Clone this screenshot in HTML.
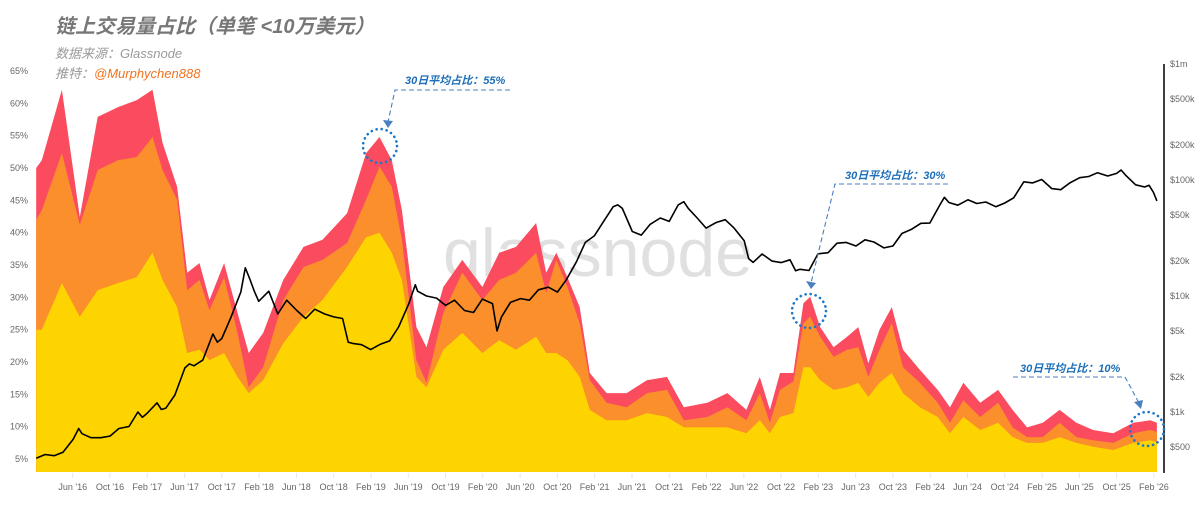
<!DOCTYPE html>
<html><head><meta charset="utf-8">
<style>
html,body{margin:0;padding:0;background:#fff;}
svg{display:block;font-family:"Liberation Sans","Noto Sans CJK SC",sans-serif;}
</style></head>
<body>
<svg id="chart" width="1200" height="512" viewBox="0 0 1200 512" xmlns="http://www.w3.org/2000/svg">
<text x="55" y="33" font-size="20" font-weight="bold" font-style="italic" fill="#777">链上交易量占比（单笔 &lt;10万美元）</text>
<text x="55" y="58" font-size="13" font-style="italic" fill="#9a9a9a">数据来源：Glassnode</text>
<text x="55" y="78" font-size="13" font-style="italic" fill="#9a9a9a">推特：<tspan fill="#f0731e">@Murphychen888</tspan></text>
<text x="598" y="276" font-size="68" fill="#e0e0e0" text-anchor="middle">glassnode</text>
<g id="areas"></g>
<g id="price"></g>
<g id="yaxis"></g>
<g id="raxis"></g>
<g id="xaxis"></g>
<g id="annot"></g>
</svg>
<script>
const dates = [2016.09,2016.14,2016.32,2016.48,2016.64,2016.82,2016.99,2017.13,2017.22,2017.35,2017.44,2017.55,2017.64,2017.77,2017.89,2017.99,2018.12,2018.30,2018.48,2018.65,2018.87,2019.04,2019.16,2019.27,2019.36,2019.49,2019.58,2019.73,2019.90,2020.08,2020.23,2020.38,2020.56,2020.65,2020.74,2020.84,2020.95,2021.04,2021.19,2021.37,2021.55,2021.73,2021.88,2022.09,2022.27,2022.44,2022.56,2022.65,2022.74,2022.86,2022.95,2023.01,2023.10,2023.22,2023.34,2023.44,2023.53,2023.63,2023.74,2023.84,2023.99,2024.15,2024.26,2024.38,2024.53,2024.69,2024.82,2024.95,2025.09,2025.24,2025.39,2025.54,2025.72,2025.90,2026.05,2026.11];
const redTop = [50,51.2,62.1,42.4,57.9,59.4,60.5,62.1,53.9,47.1,33.8,35.3,29.6,35.3,27.6,21.4,24.5,32.7,37.8,38.9,43.0,52.3,54.8,51.2,43.5,25.4,22.3,31.6,35.8,31.6,36.9,37.8,41.5,33.8,36.9,33.1,28.5,18.3,15.2,15.2,17.2,17.7,13.0,13.7,15.2,12.6,17.7,12.6,18.3,18.3,29.1,30.1,25.4,22.3,23.9,25.4,19.8,25.0,28.5,21.9,18.8,15.7,13.0,16.8,13.7,15.7,12.6,9.9,10.6,12.6,10.6,9.5,9.0,10.6,11.0,10.6];
const orangeTop = [42,43.5,52.3,41.2,49.7,51.2,51.7,54.8,49.7,45.1,31.1,32.7,28.0,33.1,24.5,16.1,19.2,29.6,34.7,35.8,38.4,45.1,50.2,47.1,38.9,20.3,16.8,27.6,33.8,29.6,32.7,33.8,36.9,30.7,35.8,31.6,26.0,17.2,13.7,13.0,15.2,15.7,11.0,11.5,13.0,11.0,15.2,10.6,15.7,17.0,26.0,27.0,23.9,20.8,21.9,22.3,17.7,21.9,26.0,19.2,16.8,13.7,10.6,14.1,11.5,13.7,9.9,8.4,8.4,10.6,8.4,7.9,7.5,9.0,9.5,9.2];
const yellowTop = [25,25.0,32.2,27.0,31.1,32.2,33.1,36.9,32.7,28.5,21.4,21.9,20.3,21.4,17.7,15.2,17.2,22.9,27.0,29.6,34.7,39.3,40.0,36.9,32.7,17.7,16.1,21.9,24.5,21.4,23.4,21.9,23.9,21.4,21.4,20.3,17.7,12.6,11.0,11.0,12.1,11.5,9.9,9.9,9.9,9.0,11.0,9.0,11.5,12.1,19.2,19.2,17.2,15.7,16.1,16.8,14.6,16.8,18.3,15.2,13.0,11.5,9.0,11.5,9.5,10.6,8.4,7.5,7.5,8.4,7.5,6.9,6.4,7.5,7.9,7.6];
const priceDates = [2016.09,2016.17,2016.25,2016.33,2016.42,2016.47,2016.50,2016.58,2016.67,2016.75,2016.83,2016.92,2017.0,2017.04,2017.08,2017.17,2017.21,2017.25,2017.33,2017.42,2017.46,2017.5,2017.58,2017.67,2017.71,2017.75,2017.83,2017.92,2017.96,2018.0,2018.04,2018.08,2018.17,2018.25,2018.33,2018.42,2018.5,2018.58,2018.67,2018.75,2018.83,2018.88,2018.92,2019.0,2019.08,2019.17,2019.25,2019.33,2019.42,2019.48,2019.5,2019.58,2019.67,2019.75,2019.83,2019.92,2020.0,2020.08,2020.17,2020.21,2020.25,2020.33,2020.42,2020.5,2020.58,2020.67,2020.75,2020.83,2020.92,2021.0,2021.08,2021.17,2021.25,2021.29,2021.33,2021.42,2021.5,2021.58,2021.67,2021.75,2021.83,2021.88,2021.92,2022.0,2022.08,2022.17,2022.25,2022.33,2022.42,2022.46,2022.5,2022.58,2022.67,2022.75,2022.83,2022.88,2022.92,2023.0,2023.08,2023.17,2023.25,2023.33,2023.42,2023.5,2023.58,2023.67,2023.75,2023.83,2023.92,2024.0,2024.08,2024.17,2024.21,2024.25,2024.33,2024.42,2024.5,2024.58,2024.67,2024.75,2024.83,2024.92,2025.0,2025.08,2025.17,2025.25,2025.33,2025.42,2025.5,2025.58,2025.67,2025.75,2025.79,2025.83,2025.92,2026.0,2026.04,2026.08,2026.11];
const prices = [400,430,420,450,580,720,650,600,600,620,720,750,1000,900,970,1200,1050,1080,1400,2400,2600,2500,2800,4700,4000,4300,6500,10800,17500,14000,11000,9000,11000,7000,9200,7500,6400,7700,7000,6600,6400,4000,3900,3800,3450,3850,4100,5400,8500,12500,11000,10000,9600,8300,9200,7500,7200,9400,8600,5000,6600,8800,9500,9200,11300,11900,10800,13800,19700,29000,33000,45000,59000,61000,57000,36000,33500,41500,47000,44000,61000,65000,57000,47000,38500,43000,45500,38500,30000,21000,19500,23000,20000,19400,20500,16500,17000,16600,23100,23600,28500,29000,27000,30500,29200,26000,27000,34600,37700,42300,42500,61000,71000,64000,60600,67500,62700,64600,58900,63300,70200,96500,94400,101000,84300,82500,94200,104600,107100,115700,108200,114000,122000,110000,91000,87000,90000,78000,66000];
const leftTicks = [5,10,15,20,25,30,35,40,45,50,55,60,65];
const rightTicks = [500,1000,2000,5000,10000,20000,50000,100000,200000,500000,1000000];
const rightLabels = ["$500","$1k","$2k","$5k","$10k","$20k","$50k","$100k","$200k","$500k","$1m"];
const xTickDates = [2016.417,2016.75,2017.083,2017.417,2017.75,2018.083,2018.417,2018.75,2019.083,2019.417,2019.75,2020.083,2020.417,2020.75,2021.083,2021.417,2021.75,2022.083,2022.417,2022.75,2023.083,2023.417,2023.75,2024.083,2024.417,2024.75,2025.083,2025.417,2025.75,2026.083];
const xTickLabels = ["Jun '16","Oct '16","Feb '17","Jun '17","Oct '17","Feb '18","Jun '18","Oct '18","Feb '19","Jun '19","Oct '19","Feb '20","Jun '20","Oct '20","Feb '21","Jun '21","Oct '21","Feb '22","Jun '22","Oct '22","Feb '23","Jun '23","Oct '23","Feb '24","Jun '24","Oct '24","Feb '25","Jun '25","Oct '25","Feb '26"];

const NS = "http://www.w3.org/2000/svg";
const X = t => 72.7 + (t - 2016.4167) * 111.85;
const Y = p => 472 - (p - 3) * (401 / 62);
const P = v => 412 - 116 * Math.log10(v / 1000);
function mk(tag, attrs, parent){ const e=document.createElementNS(NS,tag); for(const k in attrs) e.setAttribute(k,attrs[k]); parent.appendChild(e); return e; }

const areas = document.getElementById('areas');
function areaPath(vals){
  let d = 'M' + X(dates[0]).toFixed(1) + ',472';
  for (let i=0;i<dates.length;i++) d += 'L' + X(dates[i]).toFixed(1) + ',' + Y(vals[i]).toFixed(1);
  d += 'L' + X(dates[dates.length-1]).toFixed(1) + ',472Z';
  return d;
}
const aRed = mk('path',{d:areaPath(redTop),fill:'#fb4b5f'},areas);


const aOr = mk('path',{d:areaPath(orangeTop),fill:'#fb8f2b'},areas);


const aYe = mk('path',{d:areaPath(yellowTop),fill:'#fed400'},areas);



const pg = document.getElementById('price');
let pd = '';
for (let i=0;i<priceDates.length;i++) pd += (i?'L':'M') + X(priceDates[i]).toFixed(1) + ',' + P(prices[i]).toFixed(1);
const pl = mk('path',{d:pd,fill:'none',stroke:'#000','stroke-width':1.6,'stroke-linejoin':'round'},pg);



const ya = document.getElementById('yaxis');
leftTicks.forEach(v=>{
  const t = mk('text',{x:28,y:Y(v)+3,'font-size':9,fill:'#666','text-anchor':'end'},ya);
  t.textContent = v + '%';
  
  
});
const ra = document.getElementById('raxis');
const rl = mk('line',{x1:1164,y1:64,x2:1164,y2:473,stroke:'#000','stroke-width':1.5},ra);


rightTicks.forEach((v,i)=>{
  const t = mk('text',{x:1170,y:P(v)+3,'font-size':9,fill:'#666'},ra);
  t.textContent = rightLabels[i];
  
  
});
const xa = document.getElementById('xaxis');
xTickDates.forEach((d,i)=>{
  const tk = mk('line',{x1:X(d),y1:473,x2:X(d),y2:478,stroke:'#e6e6e6','stroke-width':1},xa);
  
  
  const t = mk('text',{x:X(d),y:490,'font-size':9,fill:'#666','text-anchor':'middle'},xa);
  t.textContent = xTickLabels[i];
  
  
});

const an = document.getElementById('annot');
const blue = '#1c6fb8';
function annotate(tx,ty,label,lineD,cx,cy,name){
  const g = mk('g',{},an);
  
  
  const t = mk('text',{x:tx,y:ty,'font-size':11,'font-weight':'bold','font-style':'italic',fill:blue},g);
  t.textContent = label;
  mk('path',{d:lineD,fill:'none',stroke:'#4a7fc0','stroke-width':1.1,'stroke-dasharray':'5,3'},g);
  mk('circle',{cx:cx,cy:cy,r:17,fill:'none',stroke:'#1a78c8','stroke-width':2.6,'stroke-dasharray':'0.1,5','stroke-linecap':'round'},g);
}
annotate(405,84,'30日平均占比：55%','M510,90 L395,90 L388,122',380,146,'annotation-55');
annotate(845,179,'30日平均占比：30%','M948,184 L835,184 L811,283',809,311,'annotation-30');
annotate(1020,372,'30日平均占比：10%','M1013,377 L1125,377 L1139,403',1147,429,'annotation-10');
[[388,128,383,120,393,121],[811,289,806,281,816,283],[1141,409,1134,402,1143,400]].forEach(a=>{
  const h = mk('path',{d:`M${a[0]},${a[1]}L${a[2]},${a[3]}L${a[4]},${a[5]}Z`,fill:'#4a7fc0'},an);
  
  
});
</script>
</body></html>
